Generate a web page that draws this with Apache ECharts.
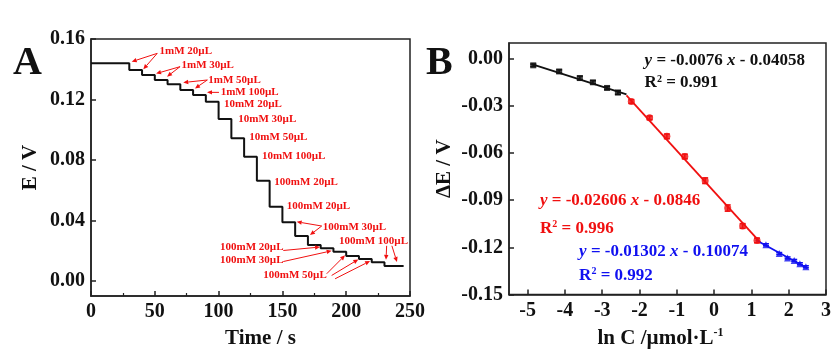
<!DOCTYPE html>
<html><head><meta charset="utf-8">
<script src="https://cdn.jsdelivr.net/npm/echarts@6/dist/echarts.min.js"></script>
<style>html,body{margin:0;padding:0;background:#fff}#c{width:834px;height:354px}</style>
</head><body><div id="c"></div>
<script>
// ---------- Panel A data ----------
const stepTimes = [0,30,40,50,60,70,80,90,100,110,120,130,140,150,160,170,180,190,200,210,220,230];
const stepLevels = [0.1439,0.1395,0.1362,0.1329,0.1300,0.1263,0.1230,0.1185,0.1071,0.0943,0.0821,0.0663,0.0491,0.0388,0.0297,0.0237,0.0216,0.0193,0.0165,0.0145,0.0123,0.0098];
const endTime = 245;
const xTicksA = [0,50,100,150,200,250];
const yTicksA = [0,0.04,0.08,0.12,0.16];

// ---------- Panel B data ----------
const blackX = [-4.85,-4.155,-3.60,-3.25,-2.87,-2.58];
const blackY = [-0.0042,-0.0081,-0.0123,-0.0150,-0.0186,-0.0215];
const blackErr = [0.0008,0.0010,0.0012,0.0010,0.0010,0.0012];
const redX = [-2.22,-1.73,-1.267,-0.786,-0.24,0.364,0.765,1.15];
const redY = [-0.0272,-0.0376,-0.0494,-0.0622,-0.0776,-0.0950,-0.1064,-0.1156];
const redErr = [0.0012,0.0012,0.0015,0.0015,0.0018,0.0020,0.0015,0.0015];
const blueX = [1.39,1.746,1.97,2.147,2.30,2.46];
const blueY = [-0.1183,-0.1239,-0.1267,-0.1283,-0.1304,-0.1323];
const blueErr = [0.0006,0.0006,0.0006,0.0006,0.0006,0.0006];
const fitSlopes = [-0.0076,-0.02606,-0.01302];
const fitIntercepts = [-0.04058,-0.0846,-0.10074];
const fitStartX = [-4.89,-2.35,1.12];
const fitEndX = [-2.35,1.25,2.50];
const xTicksB = [-5,-4,-3,-2,-1,0,1,2,3];
const yTicksB = [-0.15,-0.12,-0.09,-0.06,-0.03,0];

// ---------- annotation texts (data coords of panel A) ----------
const annoTexts = [
  ['1mM 20µL',[53.7,0.1521]],['1mM 30µL',[70.9,0.1428]],['1mM 50µL',[91.9,0.1331]],
  ['1mM 100µL',[101.6,0.1247]],['10mM 20µL',[104.2,0.117]],['10mM 30µL',[115.4,0.1069]],
  ['10mM 50µL',[124.1,0.095]],['10mM 100µL',[134,0.0826]],['100mM 20µL',[143.7,0.0656]],
  ['100mM 20µL',[153.4,0.0491]],['100mM 30µL',[181.6,0.0354]],['100mM 100µL',[194.4,0.0266]],
  ['100mM 20µL',[101.1,0.022]],['100mM 30µL',[101.1,0.0138]],['100mM 50µL',[135,0.0039]]
];
const annoArrows = [
  [[51.9,0.1505],[31.9,0.1450]],[[51.9,0.1505],[41.0,0.1400]],
  [[69.8,0.1417],[51.0,0.1371]],[[69.8,0.1417],[59.6,0.1351]],
  [[91.2,0.1329],[72.3,0.1312]],[[91.2,0.1329],[81.5,0.1273]],
  [[100.3,0.1247],[90.9,0.1247]],
  [[180.8,0.0363],[161.2,0.0391]],[[180.8,0.0363],[171.6,0.0303]],
  [[231.7,0.0232],[231.2,0.0139]],[[235.8,0.0232],[239.8,0.0125]],
  [[150.7,0.0201],[179.5,0.0224]],[[150.7,0.0128],[188.6,0.0199]],
  [[184.7,0.0047],[199.1,0.0169]],[[188.6,0.0036],[209.5,0.0142]],[[191.3,0.0014],[218.7,0.0131]]
];
// equation texts (data coords of panel B)
const eqTexts = [
  ['{i|y} = -0.0076 {i|x} - 0.04058','R{s|2} = 0.991','#111',[-1.864,-0.0015],[-1.864,-0.0155]],
  ['{i|y} = -0.02606 {i|x} - 0.0846','R{s|2} = 0.996','#f01010',[-4.671,-0.0901],[-4.671,-0.1079]],
  ['{i|y} = -0.01302 {i|x} - 0.10074','R{s|2} = 0.992','#1010f0',[-3.620,-0.1225],[-3.620,-0.1381]]
];

const FF = '"Liberation Serif","Times New Roman",serif';
const AX = '#222';
const chart = echarts.init(document.getElementById('c'), null, {renderer:'canvas'});

const stepData = stepTimes.map((t,i)=>[t, stepLevels[i]]);
stepData.push([endTime, stepLevels[stepLevels.length-1]]);

function axisCommon(ticks, fmt, margin){
  return {
    axisLine:{show:true,onZero:false,lineStyle:{color:AX,width:1.5}},
    axisTick:{show:true,inside:true,length:5,customValues:ticks,lineStyle:{color:AX,width:1.5}},
    axisLabel:{customValues:ticks,formatter:fmt,margin:margin,color:'#111',fontFamily:FF,fontWeight:'bold',fontSize:20},
    splitLine:{show:false}
  };
}
const nameStyle = {color:'#111',fontFamily:FF,fontWeight:'bold',fontSize:21};

function errSeries(xs, ys, es, color){
  return {
    type:'custom', xAxisIndex:1, yAxisIndex:1, z:3,
    data: xs.map((x,i)=>[x, ys[i], es[i]]),
    renderItem:function(params, api){
      const x=api.value(0), y=api.value(1), e=api.value(2);
      const p1=api.coord([x,y+e]), p2=api.coord([x,y-e]);
      const st={stroke:color,lineWidth:1.5};
      return {type:'group',children:[
        {type:'line',shape:{x1:p1[0],y1:p1[1],x2:p2[0],y2:p2[1]},style:st},
        {type:'line',shape:{x1:p1[0]-3,y1:p1[1],x2:p1[0]+3,y2:p1[1]},style:st},
        {type:'line',shape:{x1:p2[0]-3,y1:p2[1],x2:p2[0]+3,y2:p2[1]},style:st}
      ]};
    }
  };
}
const fitColors = ['#111','#f01010','#1010f0'];
const fitSeries = fitSlopes.map((m,i)=>({
  type:'line', xAxisIndex:1, yAxisIndex:1, showSymbol:false, z:2,
  data:[[fitStartX[i], m*fitStartX[i]+fitIntercepts[i]],[fitEndX[i], m*fitEndX[i]+fitIntercepts[i]]],
  lineStyle:{color:fitColors[i],width:1.8}
}));

chart.setOption({
  animation:false,
  grid:[
    {left:91,top:39,width:319,height:257,show:true,borderColor:AX,borderWidth:1.5},
    {left:509,top:43,width:320,height:256,show:true,borderColor:AX,borderWidth:1.5}
  ],
  xAxis:[
    Object.assign(axisCommon(xTicksA, v=>String(v), 6),{
      gridIndex:0,type:'value',min:0,max:250,
      minorTick:{show:true,splitNumber:2,length:3,lineStyle:{color:AX,width:1.2}},
      name:'Time / s',nameLocation:'middle',nameGap:32,
      nameTextStyle:Object.assign({padding:[0,0,0,20]},nameStyle)
    }),
    Object.assign(axisCommon(xTicksB, v=>String(v), 6),{
      gridIndex:1,type:'value',min:-5.5,max:3,
      name:'{n|ln C /µmol·L}{s|-1}',nameLocation:'middle',nameGap:32,
      nameTextStyle:Object.assign({padding:[0,14,0,0],rich:{
        n:{color:'#111',fontFamily:FF,fontWeight:'bold',fontSize:21,lineHeight:24},
        s:{color:'#111',fontFamily:FF,fontWeight:'bold',fontSize:12,verticalAlign:'top',lineHeight:24}
      }},nameStyle)
    })
  ],
  yAxis:[
    Object.assign(axisCommon(yTicksA, v=>v.toFixed(2), 6),{
      gridIndex:0,type:'value',min:-0.01,max:0.16,
      name:'E / V',nameLocation:'middle',nameGap:50,nameTextStyle:nameStyle
    }),
    Object.assign(axisCommon(yTicksB, v=>v.toFixed(2), 6),{
      gridIndex:1,type:'value',min:-0.15,max:0.01,
      name:'ΔE / V',nameLocation:'middle',nameGap:54,nameTextStyle:nameStyle
    })
  ],
  series:[
    {type:'line',xAxisIndex:0,yAxisIndex:0,step:'end',showSymbol:false,data:stepData,
     lineStyle:{color:'#111',width:2}},
    ...fitSeries,
    errSeries(blackX,blackY,blackErr,'#111'),
    errSeries(redX,redY,redErr,'#f01010'),
    errSeries(blueX,blueY,blueErr,'#1010f0'),
    {type:'scatter',xAxisIndex:1,yAxisIndex:1,symbol:'rect',symbolSize:6,z:4,
     data:blackX.map((x,i)=>[x,blackY[i]]),itemStyle:{color:'#111'}},
    {type:'scatter',xAxisIndex:1,yAxisIndex:1,symbol:'circle',symbolSize:7,z:4,
     data:redX.map((x,i)=>[x,redY[i]]),itemStyle:{color:'#f01010'}},
    {type:'scatter',xAxisIndex:1,yAxisIndex:1,symbol:'triangle',symbolSize:7,z:4,
     data:blueX.map((x,i)=>[x,blueY[i]]),itemStyle:{color:'#1010f0'}}
  ]
});

// ---------- annotations ----------
const g = [];
const RED = '#f01010';
const toA = p => chart.convertToPixel({gridIndex:0}, p);
const toB = p => chart.convertToPixel({gridIndex:1}, p);
annoTexts.forEach(([txt,p])=>{
  const q = toA(p);
  g.push({type:'text',x:q[0],y:q[1],z:10,style:{text:txt,fill:RED,fontFamily:FF,fontWeight:'bold',fontSize:11,verticalAlign:'middle',align:'left'}});
});
annoArrows.forEach(([a,b])=>{
  const p=toA(a), q=toA(b);
  const dx=q[0]-p[0], dy=q[1]-p[1], L=Math.hypot(dx,dy), ux=dx/L, uy=dy/L;
  const hl=5, hw=2.2;
  const bx=q[0]-ux*hl, by=q[1]-uy*hl;
  g.push({type:'line',z:10,shape:{x1:p[0],y1:p[1],x2:bx,y2:by},style:{stroke:RED,lineWidth:1}});
  g.push({type:'polygon',z:10,shape:{points:[[q[0],q[1]],[bx-uy*hw,by+ux*hw],[bx+uy*hw,by-ux*hw]]},style:{fill:RED}});
});
eqTexts.forEach(([eq,r2,col,p1,p2])=>{
  const a=toB(p1), b=toB(p2);
  const rich={
    i:{fill:col,fontFamily:FF,fontWeight:'bold',fontStyle:'italic',fontSize:17},
    s:{fill:col,fontFamily:FF,fontWeight:'bold',fontSize:10,verticalAlign:'top',lineHeight:18}
  };
  g.push({type:'text',x:a[0],y:a[1],z:10,style:{text:eq,rich:rich,fill:col,fontFamily:FF,fontWeight:'bold',fontSize:17,verticalAlign:'middle',align:'left'}});
  g.push({type:'text',x:b[0],y:b[1],z:10,style:{text:r2,rich:rich,fill:col,fontFamily:FF,fontWeight:'bold',fontSize:17,verticalAlign:'middle',align:'left'}});
});
g.push({type:'text',x:13,y:44,style:{text:'A',fill:'#111',fontFamily:FF,fontWeight:'bold',fontSize:40,verticalAlign:'alphabetic'}});
g.push({type:'text',x:426,y:44,style:{text:'B',fill:'#111',fontFamily:FF,fontWeight:'bold',fontSize:40,verticalAlign:'alphabetic'}});
chart.setOption({graphic:g});
</script></body></html>
